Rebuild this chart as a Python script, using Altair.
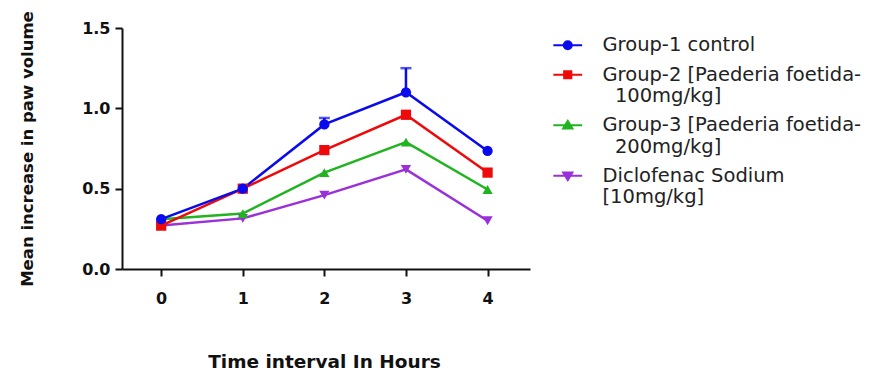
import altair as alt
import pandas as pd

hours = [0, 1, 2, 3, 4]
groups = [
    "Group-1 control",
    "Group-2 [Paederia foetida-|\u200b\u00a0\u00a0100mg/kg]",
    "Group-3 [Paederia foetida-|\u200b\u00a0\u00a0200mg/kg]",
    "Diclofenac Sodium|[10mg/kg]",
]
g1 = [0.31, 0.50, 0.90, 1.10, 0.735]
g1_sem = [0.0, 0.0, 0.04, 0.15, 0.0]
g2 = [0.27, 0.50, 0.74, 0.96, 0.60]
g2_sem = [0.0, 0.0, 0.0, 0.0, 0.0]
g3 = [0.31, 0.345, 0.60, 0.79, 0.495]
g3_sem = [0.0, 0.0, 0.0, 0.0, 0.0]
g4 = [0.27, 0.315, 0.46, 0.62, 0.30]
g4_sem = [0.0, 0.0, 0.0, 0.0, 0.0]
y_ticks = [0.0, 0.5, 1.0, 1.5]

colors = ["#0a0aee", "#ee0a0a", "#20b420", "#9a30d8"]
marker_shapes = ["circle", "square", "triangle-up", "triangle-down"]
legend_shapes = [
    "M-3.6,0H3.6M1,0A1,1,0,1,1,-1,0A1,1,0,1,1,1,0Z",
    "M-3.6,0H3.6M-0.9,-0.9H0.9V0.9H-0.9Z",
    "M-3.6,0H3.6M0,-1.1L1.15,0.8H-1.15Z",
    "M-3.6,0H3.6M0,1.1L1.15,-0.8H-1.15Z",
]

series = [g1, g2, g3, g4]
sems = [g1_sem, g2_sem, g3_sem, g4_sem]
rows = []
# draw Group-1 last (on top)
for gi in reversed(range(len(groups))):
    for h, v, s in zip(hours, series[gi], sems[gi]):
        rows.append({"Hours": h, "Group": groups[gi], "Value": v, "Top": v + s})
df = pd.DataFrame(rows)

FONT = "DejaVu Sans"
xscale = alt.Scale(domain=[-0.48, 4.52], nice=False, zero=False)
yscale = alt.Scale(domain=[0, 1.5], nice=False)
xaxis = alt.Axis(
    values=hours, format="d", title="Time interval In Hours",
    grid=False, domainColor="#111", domainWidth=2, tickColor="#111", tickWidth=2,
    tickSize=7, labelFont=FONT, labelFontWeight="bold", labelFontSize=16,
    labelColor="#111", labelPadding=14, labelBaseline="top",
    titleFont=FONT, titleFontWeight="bold", titleFontSize=18.5, titleColor="#111",
    titleBaseline="alphabetic", titleY=98, titleX=202, titleAlign="center",
)
yaxis = alt.Axis(
    values=y_ticks, format=".1f", title="Mean increase in paw volume",
    grid=False, domainColor="#111", domainWidth=2, tickColor="#111", tickWidth=2,
    tickSize=7, labelFont=FONT, labelFontWeight="bold", labelFontSize=16,
    labelColor="#111", labelPadding=5,
    titleFont=FONT, titleFontWeight="bold", titleFontSize=16.5, titleColor="#111",
    titleAngle=270, titleBaseline="alphabetic", titleAlign="center",
    titleX=-90, titleY=120.5,
)

x = alt.X("Hours:Q", scale=xscale, axis=xaxis)
y = alt.Y("Value:Q", scale=yscale, axis=yaxis)
color = alt.Color("Group:N", scale=alt.Scale(domain=groups, range=colors), legend=None)

base = alt.Chart(df)
lines = base.mark_line(strokeWidth=2.5).encode(x=x, y=y, color=color, detail="Group:N")
err_base = base.transform_filter("datum.Top > datum.Value")
err = err_base.mark_rule(strokeWidth=2.5).encode(
    x=x, y=y, y2=alt.Y2("Top:Q"), color=color
)
caps = err_base.mark_tick(orient="horizontal", size=11, thickness=2.5).encode(
    x=x, y=alt.Y("Top:Q", scale=yscale, axis=yaxis), color=color
)
points = base.mark_point(filled=True, size=105, opacity=1).encode(
    x=x, y=y, color=color,
    shape=alt.Shape("Group:N", scale=alt.Scale(domain=groups, range=marker_shapes), legend=None),
)

leg = alt.Legend(
    title=None, orient="none", legendX=436, legendY=7.5, padding=0,
    symbolSize=64, symbolStrokeWidth=2, symbolOpacity=1,
    labelFont=FONT, labelFontSize=19.5, labelColor="#222", labelLimit=400,
    labelOffset=25, rowPadding=8.5, labelExpr="split(datum.label, '|')",
)
legend_layer = base.mark_point(filled=True, opacity=0).encode(
    x=x, y=y,
    fill=alt.Fill("Group:N", scale=alt.Scale(domain=groups, range=colors), legend=leg),
    stroke=alt.Stroke("Group:N", scale=alt.Scale(domain=groups, range=colors), legend=leg),
    shape=alt.Shape("Group:N", scale=alt.Scale(domain=groups, range=legend_shapes), legend=leg),
)

chart = (
    alt.layer(lines, err, caps, points, legend_layer)
    .resolve_scale(shape="independent", fill="independent", stroke="independent")
    .properties(
        width=408, height=241,
        autosize=alt.AutoSizeParams(type="none"),
        padding={"left": 122, "top": 28, "right": 340, "bottom": 102},
        background="white",
    )
    .configure_view(strokeWidth=0, stroke="transparent")
)

chart.save("out.html", embed_options={"renderer": "svg", "actions": False})
